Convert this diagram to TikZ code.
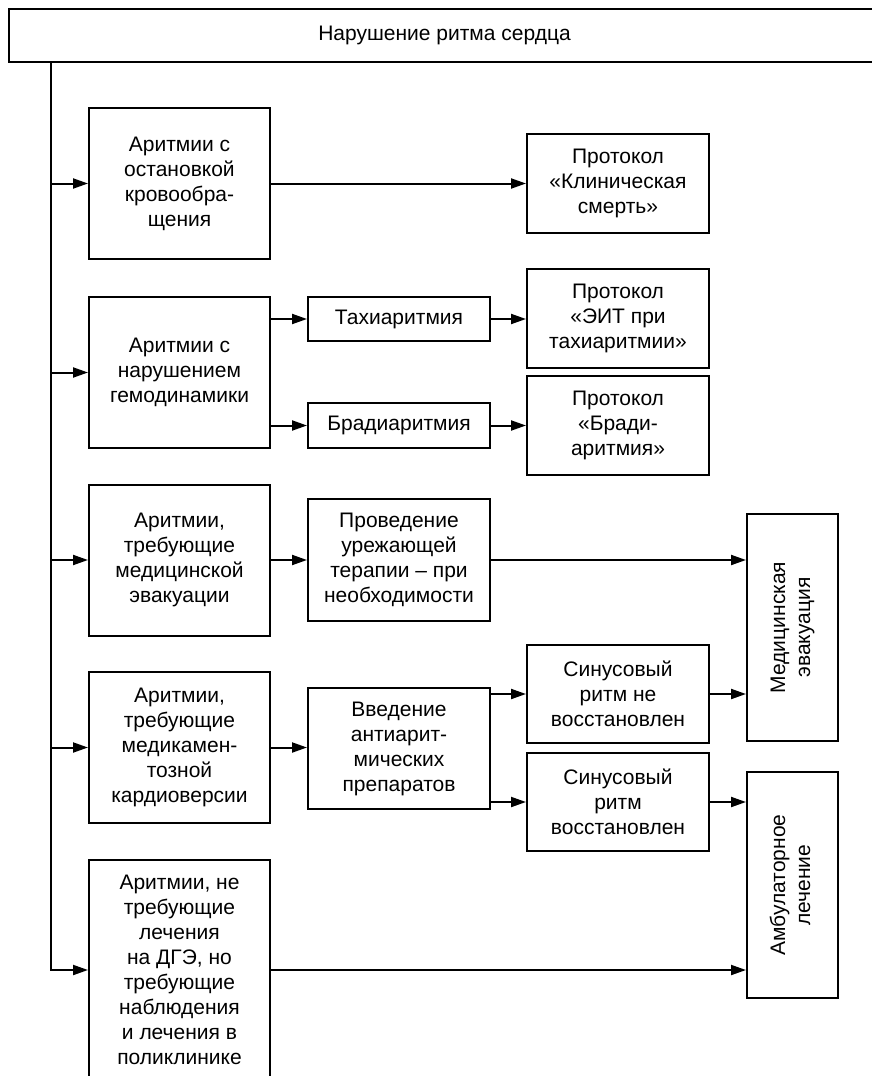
\documentclass[tikz,border=0pt]{standalone}
\usepackage{fontspec}
\setmainfont{Liberation Sans}
\usetikzlibrary{arrows.meta}
\begin{document}
\begin{tikzpicture}[x=1pt,y=-1pt,
  box/.style={draw, line width=2pt, inner sep=0pt, align=center,
    font=\fontsize{21}{25}\selectfont},
  lbox/.style={box, minimum width=181pt, minimum height=151pt},
  mbox/.style={box, minimum width=182pt},
  pbox/.style={box, minimum width=182pt, minimum height=99pt},
  vbox/.style={box, minimum width=91pt, minimum height=227pt},
  ln/.style={line width=2pt},
  arr/.style={line width=2pt, -{Triangle[length=15pt,width=10pt]}}]
\useasboundingbox (0,0) rectangle (872,1076);
\clip (0,0) rectangle (872,1076);
% top
\node[box, minimum width=871pt, minimum height=53pt] (top) at (444.5,35.5) {Нарушение ритма сердца};
\coordinate (tr) at (51,62);
% left column
\node[lbox] (a1) at (179.5,183.5) {Аритмии с\\остановкой\\кровообра-\\щения};
\node[lbox] (a2) at (179.5,372.5) {Аритмии с\\нарушением\\гемодинамики};
\node[lbox] (a3) at (179.5,560) {Аритмии,\\требующие\\медицинской\\эвакуации};
\node[lbox] (a4) at (179.5,747.5) {Аритмии,\\требующие\\медикамен-\\тозной\\кардиоверсии};
\node[lbox, minimum height=220pt] (a5) at (179.5,970) {Аритмии, не\\требующие\\лечения\\на ДГЭ, но\\требующие\\наблюдения\\и лечения в\\поликлинике};
% middle column
\node[mbox, minimum height=44pt] (tachy) at (399,319) {Тахиаритмия};
\node[mbox, minimum height=45pt] (brady) at (399,425.5) {Брадиаритмия};
\node[mbox, minimum height=122pt] (prov) at (399,560) {Проведение\\урежающей\\терапии – при\\необходимости};
\node[mbox, minimum height=121pt] (vved) at (399,748.5) {Введение\\антиарит-\\мических\\препаратов};
% protocol column
\node[pbox] (p1) at (618,183.5) {Протокол\\«Клиническая\\смерть»};
\node[pbox] (p2) at (618,318.5) {Протокол\\«ЭИТ при\\тахиаритмии»};
\node[pbox] (p3) at (618,425.5) {Протокол\\«Бради-\\аритмия»};
\node[pbox, minimum height=98pt] (sn) at (618,694) {Синусовый\\ритм не\\восстановлен};
\node[pbox, minimum height=98pt] (sv) at (618,802) {Синусовый\\ритм\\восстановлен};
% right column
\node[vbox] (med) at (792.5,627.5) {\rotatebox{90}{\begin{tabular}{@{}c@{}}Медицинская\\эвакуация\end{tabular}}};
\node[vbox, minimum height=226pt] (amb) at (792.5,885) {\rotatebox{90}{\begin{tabular}{@{}c@{}}Амбулаторное\\лечение\end{tabular}}};
% trunk
\draw[ln] (tr) -- (a4.west -| tr);
\draw[arr] (a1.west -| tr) -- (a1.west);
\draw[arr] (a2.west -| tr) -- (a2.west);
\draw[arr] (a3.west -| tr) -- (a3.west);
\draw[arr] (a4.west -| tr) -- (a4.west);
\draw[arr] (a4.west -| tr) -- (a5.west -| tr) -- (a5.west);
% connectors
\draw[arr] (a1.east) -- (a1.east -| p1.west);
\draw[arr] (a2.east |- tachy.west) -- (tachy.west);
\draw[arr] (a2.east |- brady.west) -- (brady.west);
\draw[arr] (tachy.east) -- (tachy.east -| p2.west);
\draw[arr] (brady.east) -- (brady.east -| p3.west);
\draw[arr] (a3.east) -- (prov.west);
\draw[arr] (prov.east) -- (prov.east -| med.west);
\draw[arr] (a4.east) -- (a4.east -| vved.west);
\draw[arr] (vved.east |- sn.west) -- (sn.west);
\draw[arr] (vved.east |- sv.west) -- (sv.west);
\draw[arr] (sn.east) -- (sn.east -| med.west);
\draw[arr] (sv.east) -- (sv.east -| amb.west);
\draw[arr] (a5.east) -- (a5.east -| amb.west);
\end{tikzpicture}
\end{document}
